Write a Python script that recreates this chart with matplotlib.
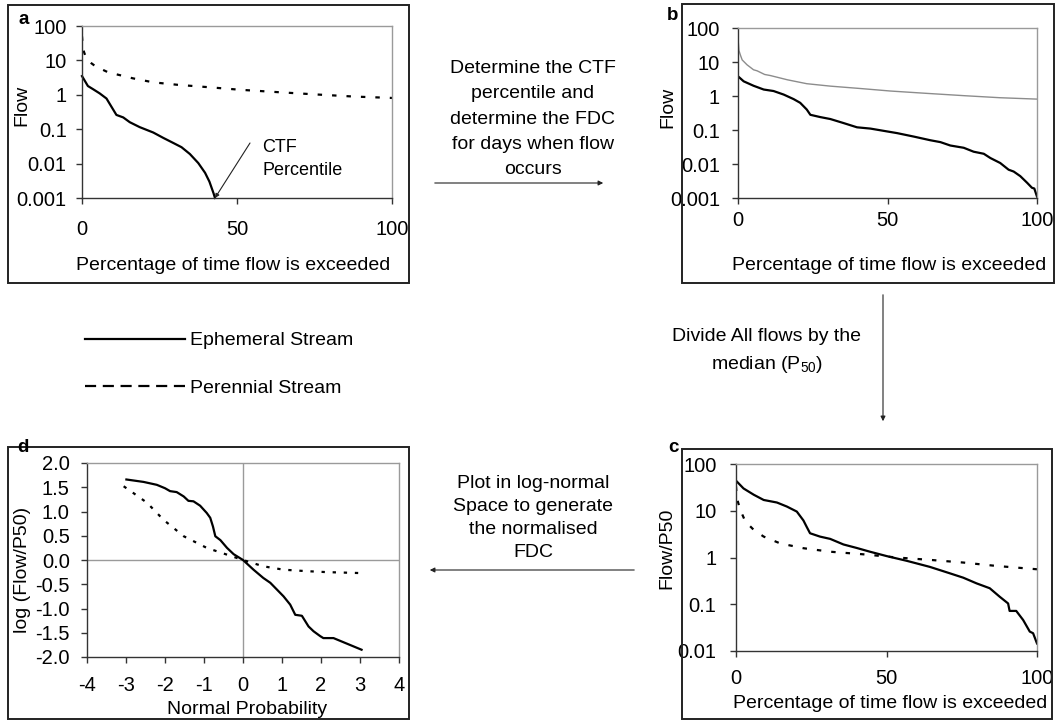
import matplotlib
matplotlib.use('Agg')
import matplotlib.pyplot as plt
from matplotlib.patches import Rectangle, FancyArrowPatch
from matplotlib.lines import Line2D

plt.rcParams['font.family'] = ['Liberation Sans', 'DejaVu Sans']
plt.rcParams['mathtext.fontset'] = 'custom'
plt.rcParams['mathtext.rm'] = 'Liberation Sans'
plt.rcParams['axes.unicode_minus'] = False

# ---------------- data ----------------
# panel a: full flow duration curves
a_eph_x = [0, 1.9, 3.6, 5.7, 7.9, 9.5, 11.1, 13.3, 15.4, 18.6, 23, 26.2, 29.4, 32.1,
           34.8, 37.5, 39.7, 41.1, 42.4, 42.9]
a_eph_y = [3.5, 1.8, 1.45, 1.1, 0.78, 0.45, 0.26, 0.22, 0.16, 0.115, 0.08, 0.056, 0.04,
           0.03, 0.019, 0.0104, 0.0054, 0.003, 0.0014, 0.001]
per_x = [0, 0.3, 0.8, 1.4, 1.9, 3, 5.2, 6.4, 8.9, 10.8, 16.5, 23, 30.9, 41.3, 51, 62.8,
         75.8, 87.6, 100]
per_y = [50, 22, 16, 11.5, 10.4, 8.3, 5.9, 5.5, 4.3, 4.0, 3.0, 2.3, 1.95, 1.65, 1.4, 1.2,
         1.02, 0.89, 0.81]

# panel b: FDC for days when flow occurs
b_eph_x = [0, 1.9, 5.2, 8.6, 11.9, 15.3, 18.6, 20.8, 23, 24.2, 27.5, 30.9, 35.3, 39.8,
           44.3, 49.8, 53.2, 58.8, 64.3, 67.7, 71, 75.5, 78.8, 82.2, 84.4, 87.7, 90.5,
           92.2, 94.4, 96.7, 98.3, 99.1, 100]
b_eph_y = [3.8, 2.7, 2.0, 1.55, 1.4, 1.1, 0.81, 0.63, 0.4, 0.28, 0.24, 0.21, 0.16, 0.12,
           0.11, 0.091, 0.081, 0.064, 0.05, 0.044, 0.035, 0.03, 0.023, 0.02, 0.015,
           0.0107, 0.0068, 0.006, 0.0044, 0.0028, 0.002, 0.0019, 0.0011]

# panel c: flows divided by the median
c_eph_x = [0, 2.5, 5.9, 9.2, 13.6, 16.9, 20.2, 22.4, 23.5, 24.6, 27.9, 31.3, 35.7, 40.1,
           44.5, 50.1, 56.7, 64.4, 71, 75.5, 79.9, 84.3, 87.6, 90.4, 90.9, 93.1, 95.4,
           97.6, 98.7, 100]
c_eph_y = [44, 30, 22, 17, 15, 12.3, 9.6, 6.2, 4.5, 3.3, 2.8, 2.5, 1.9, 1.6, 1.33, 1.07,
           0.85, 0.63, 0.46, 0.37, 0.28, 0.22, 0.145, 0.104, 0.072, 0.072, 0.046, 0.026,
           0.024, 0.0145]
c_per_x = [0, 0.3, 1.4, 3.1, 5.9, 9.2, 14.7, 22.4, 31.3, 42.3, 53.4, 64.4, 75.5, 86.5, 100]
c_per_y = [33, 18.6, 10.5, 5.9, 3.9, 2.8, 2.0, 1.58, 1.33, 1.17, 1.0, 0.89, 0.78, 0.66, 0.56]

# panel d: log-normal space
d_eph_x = [-2.99, -2.55, -2.21, -2.0, -1.87, -1.70, -1.52, -1.40, -1.27, -1.10, -0.93,
           -0.84, -0.77, -0.71, -0.58, -0.41, -0.24, 0, 0.27, 0.52, 0.70, 0.87, 1.04,
           1.21, 1.34, 1.51, 1.68, 1.81, 1.98, 2.06, 2.32, 3.04]
d_eph_y = [1.66, 1.61, 1.55, 1.48, 1.42, 1.40, 1.31, 1.22, 1.21, 1.12, 0.97, 0.87, 0.69,
           0.49, 0.41, 0.25, 0.12, 0, -0.20, -0.37, -0.47, -0.61, -0.75, -0.92, -1.13,
           -1.15, -1.37, -1.47, -1.57, -1.61, -1.61, -1.85]
d_per_x = [-3.06, -2.81, -2.46, -2.04, -1.52, -0.93, -0.41, 0, 0.52, 1.04, 1.63, 2.15, 3.04]
d_per_y = [1.52, 1.38, 1.18, 0.83, 0.49, 0.25, 0.11, 0, -0.13, -0.20, -0.23, -0.25, -0.27]

log_ticks_a = [0.001, 0.01, 0.1, 1, 10, 100]
log_labels_a = ['0.001', '0.01', '0.1', '1', '10', '100']
log_ticks_c = [0.01, 0.1, 1, 10, 100]
log_labels_c = ['0.01', '0.1', '1', '10', '100']
pct_ticks = [0, 50, 100]
d_xticks = [-4, -3, -2, -1, 0, 1, 2, 3, 4]
d_yticks = [-2.0, -1.5, -1.0, -0.5, 0.0, 0.5, 1.0, 1.5, 2.0]

xlabel_pct = 'Percentage of time flow is exceeded'
legend_labels = ['Ephemeral Stream', 'Perennial Stream']

# ---------------- layout ----------------
W, H = 1056, 720
fig = plt.figure(figsize=(W / 100, H / 100), dpi=100)
FS = 14
TFS = 14.5
DOT = (0, (2, 4.5))


def fx(px):
    return px / W


def fy(py):
    return 1 - py / H


def add_axes(x0, y0, x1, y1):
    return fig.add_axes([fx(x0), fy(y1), (x1 - x0) / W, (y1 - y0) / H])


def style(ax, xpad, ypad):
    for s in ['top', 'right']:
        ax.spines[s].set_color('#9a9a9a')
        ax.spines[s].set_linewidth(1)
    for s in ['left', 'bottom']:
        ax.spines[s].set_color('#333333')
        ax.spines[s].set_linewidth(1)
    ax.tick_params(direction='out', length=4, width=1, color='#333333', labelsize=TFS)
    ax.tick_params(axis='x', pad=xpad)
    ax.tick_params(axis='y', pad=ypad)
    ax.minorticks_off()
    ax.set_facecolor('white')


def box(x0, y0, x1, y1):
    fig.patches.append(Rectangle((fx(x0), fy(y1)), (x1 - x0) / W, (y1 - y0) / H,
                                 transform=fig.transFigure, fill=False,
                                 edgecolor='#222222', linewidth=1.4, zorder=0))


def arrow(x0, y0, x1, y1):
    fig.add_artist(FancyArrowPatch((fx(x0), fy(y0)), (fx(x1), fy(y1)),
                                   transform=fig.transFigure, arrowstyle='-|>',
                                   mutation_scale=7, lw=0.8, color='#222222'))


def ftext(x, y, s, **kw):
    kw.setdefault('fontsize', FS)
    kw.setdefault('ha', 'center')
    kw.setdefault('va', 'center')
    fig.text(fx(x), fy(y), s, **kw)


box(8, 5, 409, 283)
box(682, 4, 1054, 283)
box(682, 449, 1052, 719)
box(8, 447, 409, 719)

# ---- panel a ----
ax_a = add_axes(82, 26, 392, 198)
ax_a.plot(a_eph_x, a_eph_y, color='black', lw=1.6, clip_on=False)
ax_a.plot(per_x, per_y, color='black', lw=1.6, linestyle=DOT)
ax_a.set_yscale('log')
ax_a.set_xlim(0, 100)
ax_a.set_ylim(0.001, 100)
ax_a.set_yticks(log_ticks_a)
ax_a.set_yticklabels(log_labels_a)
ax_a.set_xticks(pct_ticks)
style(ax_a, 12, 7)
ax_a.annotate('', xy=(42.9, 0.001), xycoords='data',
              xytext=(fx(250), fy(143)), textcoords='figure fraction',
              arrowprops=dict(arrowstyle='-|>', lw=0.8, color='#222222', mutation_scale=6,
                              shrinkA=0, shrinkB=0), annotation_clip=False)
ftext(262, 159, 'CTF\nPercentile', ha='left', fontsize=13, linespacing=1.5)
ftext(22, 105, 'Flow', rotation=90)
ftext(233, 265, xlabel_pct)
ftext(24, 19, 'a', fontweight='bold', fontsize=13.5)

# ---- panel b ----
ax_b = add_axes(738, 28, 1037, 198)
ax_b.plot(per_x, per_y, color='#8c8c8c', lw=1)
ax_b.plot(b_eph_x, b_eph_y, color='black', lw=1.6)
ax_b.set_yscale('log')
ax_b.set_xlim(0, 100)
ax_b.set_ylim(0.001, 100)
ax_b.set_yticks(log_ticks_a)
ax_b.set_yticklabels(log_labels_a)
ax_b.set_xticks(pct_ticks)
style(ax_b, 5, 9)
ftext(668, 107, 'Flow', rotation=90)
ftext(889, 265, xlabel_pct)
ftext(673, 15, 'b', fontweight='bold', fontsize=13.5)

# ---- panel c ----
ax_c = add_axes(736, 464, 1037, 651)
ax_c.plot(c_eph_x, c_eph_y, color='black', lw=1.6)
ax_c.plot(c_per_x, c_per_y, color='black', lw=1.6, linestyle=DOT)
ax_c.set_yscale('log')
ax_c.set_xlim(0, 100)
ax_c.set_ylim(0.01, 100)
ax_c.set_yticks(log_ticks_c)
ax_c.set_yticklabels(log_labels_c)
ax_c.set_xticks(pct_ticks)
style(ax_c, 9, 10)
ftext(667, 548, 'Flow/P50', rotation=90)
ftext(890, 704, xlabel_pct)
ftext(673, 447, 'c', fontweight='bold', fontsize=13.5)

# ---- panel d ----
ax_d = add_axes(87, 463, 399, 657)
ax_d.axhline(0, color='#9a9a9a', lw=1, zorder=1)
ax_d.axvline(0, color='#9a9a9a', lw=1, zorder=1)
ax_d.plot(d_eph_x, d_eph_y, color='black', lw=1.6, zorder=3)
ax_d.plot(d_per_x, d_per_y, color='black', lw=1.6, linestyle=(0, (1.5, 3.5)), zorder=3)
ax_d.set_xlim(-4, 4)
ax_d.set_ylim(-2, 2)
ax_d.set_xticks(d_xticks)
ax_d.set_yticks(d_yticks)
ax_d.set_yticklabels([f'{v:.1f}' for v in d_yticks])
style(ax_d, 10, 8.5)
ftext(23, 570, 'log (Flow/P50)', rotation=90)
ftext(247, 709, 'Normal Probability')
ftext(23, 447, 'd', fontweight='bold', fontsize=13.5)

# ---- legend ----
handles = [Line2D([], [], color='black', lw=1.6),
           Line2D([], [], color='black', lw=1.6, linestyle=(0, (5, 3)))]
fig.legend(handles, legend_labels, loc='center left',
           bbox_to_anchor=(fx(85), fy(364.5)), frameon=False, fontsize=FS,
           handlelength=100 / (FS * 100 / 72), handletextpad=0.25,
           labelspacing=1.55, borderpad=0, borderaxespad=0)

# ---- process text & arrows ----
ftext(533, 119, 'Determine the CTF\npercentile and\ndetermine the FDC\nfor days when flow\noccurs',
      linespacing=1.64)
arrow(432, 183, 606, 183)
ftext(767, 351, 'Divide All flows by the\nmedian (P$_{\\rm 50}$)', linespacing=1.6)
arrow(883, 292, 883, 424)
ftext(533, 518, 'Plot in log-normal\nSpace to generate\nthe normalised\nFDC', linespacing=1.47)
arrow(637, 570, 427, 570)

fig.savefig('out.png', dpi=100)
